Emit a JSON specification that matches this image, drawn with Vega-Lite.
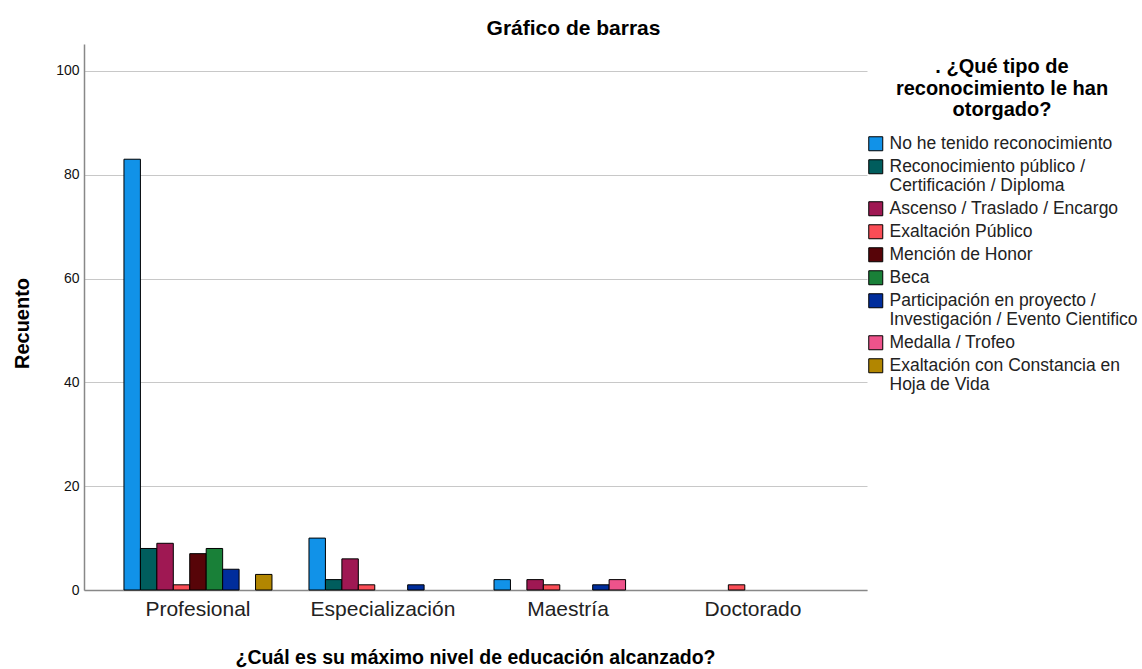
{
  "$schema": "https://vega.github.io/schema/vega-lite/v6.json",
  "width": 783,
  "height": 546,
  "autosize": {"type": "none"},
  "padding": {"left": 84, "top": 44, "right": 275, "bottom": 79},
  "background": "white",
  "title": {
    "text": "Gráfico de barras",
    "font": "Liberation Sans",
    "fontSize": 21,
    "fontWeight": "bold",
    "color": "black",
    "anchor": "middle",
    "dx": 98,
    "offset": 5
  },
  "data": {
    "values": [
      {"nivel": "Profesional", "tipo": "No he tenido reconocimiento", "n": 83},
      {"nivel": "Profesional", "tipo": "Reconocimiento público / Certificación / Diploma", "n": 8},
      {"nivel": "Profesional", "tipo": "Ascenso / Traslado / Encargo", "n": 9},
      {"nivel": "Profesional", "tipo": "Exaltación Público", "n": 1},
      {"nivel": "Profesional", "tipo": "Mención de Honor", "n": 7},
      {"nivel": "Profesional", "tipo": "Beca", "n": 8},
      {"nivel": "Profesional", "tipo": "Participación en proyecto / Investigación / Evento Cientifico", "n": 4},
      {"nivel": "Profesional", "tipo": "Exaltación con Constancia en Hoja de Vida", "n": 3},
      {"nivel": "Especialización", "tipo": "No he tenido reconocimiento", "n": 10},
      {"nivel": "Especialización", "tipo": "Reconocimiento público / Certificación / Diploma", "n": 2},
      {"nivel": "Especialización", "tipo": "Ascenso / Traslado / Encargo", "n": 6},
      {"nivel": "Especialización", "tipo": "Exaltación Público", "n": 1},
      {"nivel": "Especialización", "tipo": "Participación en proyecto / Investigación / Evento Cientifico", "n": 1},
      {"nivel": "Maestría", "tipo": "No he tenido reconocimiento", "n": 2},
      {"nivel": "Maestría", "tipo": "Ascenso / Traslado / Encargo", "n": 2},
      {"nivel": "Maestría", "tipo": "Exaltación Público", "n": 1},
      {"nivel": "Maestría", "tipo": "Participación en proyecto / Investigación / Evento Cientifico", "n": 1},
      {"nivel": "Maestría", "tipo": "Medalla / Trofeo", "n": 2},
      {"nivel": "Doctorado", "tipo": "Exaltación Público", "n": 1}
    ]
  },
  "mark": {"type": "bar", "stroke": "black", "strokeWidth": 1},
  "encoding": {
    "x": {
      "field": "nivel",
      "type": "nominal",
      "sort": ["Profesional", "Especialización", "Maestría", "Doctorado"],
      "scale": {"domain": ["Profesional", "Especialización", "Maestría", "Doctorado"], "paddingInner": 0.2, "paddingOuter": 0.216},
      "axis": {
        "title": "¿Cuál es su máximo nivel de educación alcanzado?",
        "titleFont": "Liberation Sans",
        "titleFontSize": 19.5,
        "titleFontWeight": "bold",
        "titleColor": "black",
        "titleX": 391,
        "titleY": 67,
        "titleAlign": "center",
        "titleBaseline": "middle",
        "labelFont": "Liberation Sans",
        "labelFontSize": 21,
        "labelColor": "#222222",
        "labelPadding": 8,
        "labelAngle": 0,
        "ticks": false,
        "grid": false,
        "domainColor": "#888888",
        "domainWidth": 1.5
      }
    },
    "xOffset": {
      "field": "tipo",
      "type": "nominal",
      "scale": {
        "domain": [
          "No he tenido reconocimiento",
          "Reconocimiento público / Certificación / Diploma",
          "Ascenso / Traslado / Encargo",
          "Exaltación Público",
          "Mención de Honor",
          "Beca",
          "Participación en proyecto / Investigación / Evento Cientifico",
          "Medalla / Trofeo",
          "Exaltación con Constancia en Hoja de Vida"
        ],
        "paddingInner": 0,
        "paddingOuter": 0
      }
    },
    "y": {
      "field": "n",
      "type": "quantitative",
      "scale": {"domain": [0, 105.2], "nice": false, "zero": true},
      "axis": {
        "title": "Recuento",
        "titleFont": "Liberation Sans",
        "titleFontSize": 20,
        "titleFontWeight": "bold",
        "titleColor": "black",
        "titleX": -62,
        "titleY": 279,
        "titleAngle": -90,
        "titleAlign": "center",
        "titleBaseline": "middle",
        "values": [0, 20, 40, 60, 80, 100],
        "labelFont": "Liberation Sans",
        "labelFontSize": 14,
        "labelColor": "#111111",
        "labelPadding": 5,
        "ticks": false,
        "grid": true,
        "gridColor": "#c8c8c8",
        "gridWidth": 1,
        "domainColor": "#888888",
        "domainWidth": 1.5
      }
    },
    "color": {
      "field": "tipo",
      "type": "nominal",
      "scale": {
        "domain": [
          "No he tenido reconocimiento",
          "Reconocimiento público / Certificación / Diploma",
          "Ascenso / Traslado / Encargo",
          "Exaltación Público",
          "Mención de Honor",
          "Beca",
          "Participación en proyecto / Investigación / Evento Cientifico",
          "Medalla / Trofeo",
          "Exaltación con Constancia en Hoja de Vida"
        ],
        "range": ["#1192e8", "#005d5d", "#9f1853", "#fa4d56", "#570408", "#198038", "#002d9c", "#ee538b", "#b28600"]
      },
      "legend": {
        "orient": "none",
        "legendX": 783,
        "legendY": 13,
        "title": [". ¿Qué tipo de", "reconocimiento le han", "otorgado?"],
        "titleFont": "Liberation Sans",
        "titleFontSize": 20,
        "titleFontWeight": "bold",
        "titleColor": "black",
        "titleLineHeight": 21.5,
        "titleAlign": "center",
        "titleAnchor": "middle",
        "titleLimit": 1000,
        "titlePadding": 15,
        "labelFont": "Liberation Sans",
        "labelFontSize": 17.5,
        "labelColor": "#222222",
        "labelLimit": 400,
        "labelOffset": 5,
        "rowPadding": 4,
        "symbolType": "square",
        "symbolSize": 196,
        "symbolStrokeColor": "black",
        "symbolStrokeWidth": 1,
        "symbolOpacity": 1,
        "labelExpr": "datum.label == 'Reconocimiento público / Certificación / Diploma' ? ['Reconocimiento público /', 'Certificación / Diploma'] : datum.label == 'Participación en proyecto / Investigación / Evento Cientifico' ? ['Participación en proyecto /', 'Investigación / Evento Cientifico'] : datum.label == 'Exaltación con Constancia en Hoja de Vida' ? ['Exaltación con Constancia en', 'Hoja de Vida'] : datum.label"
      }
    }
  },
  "config": {"view": {"stroke": null}}
}
